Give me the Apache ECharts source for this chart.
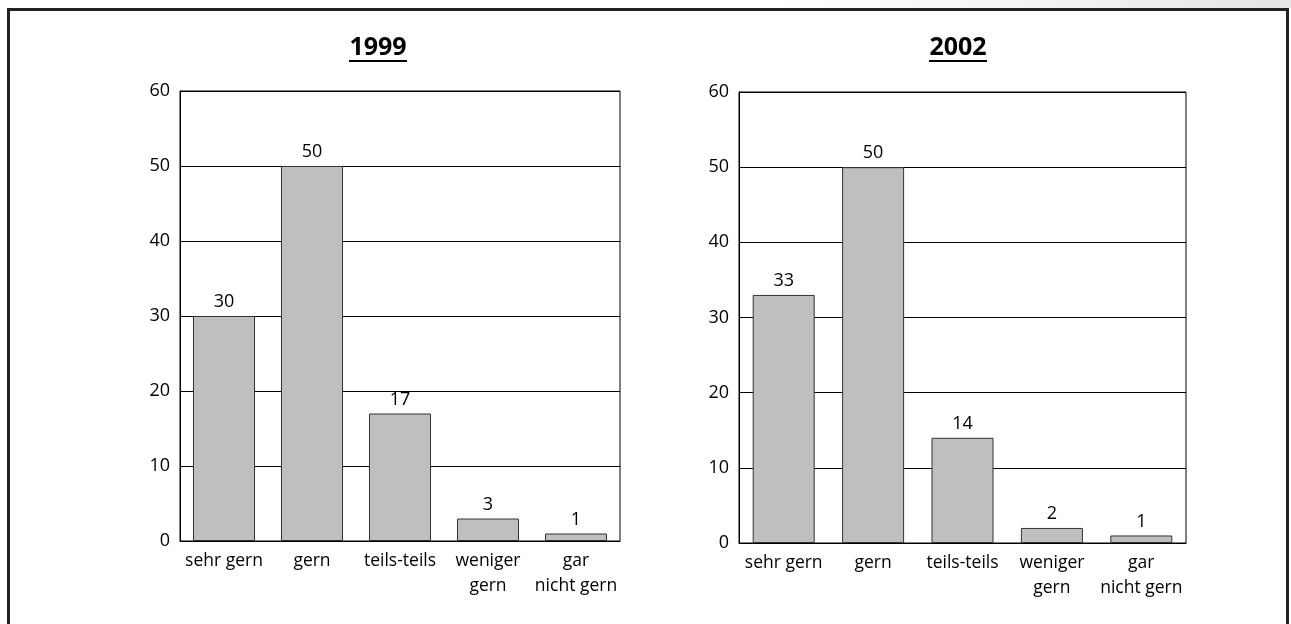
<!DOCTYPE html>
<html><head><meta charset="utf-8">
<script src="https://cdn.jsdelivr.net/npm/echarts@6/dist/echarts.min.js"></script>
<style>html,body{margin:0;padding:0;background:#fff}#c{width:1291px;height:624px}</style>
</head><body><div id="c"></div>
<script>
const categories = ['sehr gern', 'gern', 'teils-teils', 'weniger\ngern', 'gar\nnicht gern'];
const values1999 = [30, 50, 17, 3, 1];
const values2002 = [33, 50, 14, 2, 1];
const titles = ['1999', '2002'];
const yTicks = [0, 10, 20, 30, 40, 50, 60];

const FONT = 'Open Sans';
const chart = echarts.init(document.getElementById('c'));
const grids = [
  {left: 180, top: 91, width: 440, height: 450},
  {left: 739, top: 92, width: 447, height: 451}
];
function xAxis(i){
  return {type:'category', gridIndex:i, data:categories,
    axisLine:{lineStyle:{color:'#000', width:1}}, axisTick:{show:false},
    axisLabel:{color:'#000', fontSize:17.5, fontFamily:FONT, margin:8, lineHeight:25, interval:0}};
}
function yAxis(i){
  return {type:'value', gridIndex:i, min:yTicks[0], max:yTicks[yTicks.length-1], interval:10,
    axisLine:{show:true, lineStyle:{color:'#000'}}, axisTick:{show:false},
    splitLine:{lineStyle:{color:'#000', width:1}},
    axisLabel:{color:'#000', fontSize:18, fontFamily:FONT, margin:10}};
}
function series(i, data){
  return {type:'bar', xAxisIndex:i, yAxisIndex:i, data:data, barWidth:62,
    itemStyle:{color:'#bfbfbf', borderColor:'#333', borderWidth:1},
    label:{show:true, position:'top', distance:5, color:'#000', fontSize:18, fontFamily:FONT},
    silent:true, animation:false};
}
const titleCenters = [378, 958];
const titleGraphics = [];
titles.forEach((t,i)=>{
  titleGraphics.push({type:'text', x:titleCenters[i], y:48, silent:true,
    style:{text:t, align:'center', verticalAlign:'middle', font:'bold 25px "Open Sans"', fill:'#000'}});
  titleGraphics.push({type:'line', silent:true,
    shape:{x1:titleCenters[i]-29, y1:61, x2:titleCenters[i]+29, y2:61}, style:{stroke:'#000', lineWidth:2}});
});
chart.setOption({
  animation:false,
  backgroundColor:'#fff',
  grid: grids.map(g=>Object.assign({show:true, borderColor:'#000', borderWidth:1, backgroundColor:'transparent'}, g)),
  xAxis:[xAxis(0), xAxis(1)],
  yAxis:[yAxis(0), yAxis(1)],
  series:[series(0, values1999), series(1, values2002)],
  graphic:[
    {type:'rect', shape:{x:0, y:0, width:1291, height:8}, silent:true,
      style:{fill:new echarts.graphic.LinearGradient(0,0,1,0,[{offset:0,color:'#ffffff'},{offset:0.6,color:'#ffffff'},{offset:1,color:'#e6e6e6'}])}},
    {type:'rect', shape:{x:8.5, y:9.5, width:1279, height:640}, silent:true,
      style:{fill:null, stroke:'#222', lineWidth:3}}
  ].concat(titleGraphics)
});
</script></body></html>
